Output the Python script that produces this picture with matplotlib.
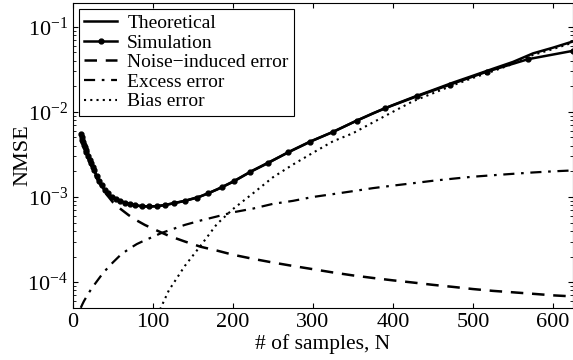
import numpy as np
import matplotlib
matplotlib.use("Agg")
import matplotlib.pyplot as plt

plt.rcParams['font.family'] = ['Liberation Serif', 'DejaVu Serif']
plt.rcParams['mathtext.fontset'] = 'stix'

# curves
n_grid = [10, 12, 14, 17, 20, 25, 30, 35, 40, 50, 60, 70, 80, 90, 100, 110, 120,
          140, 160, 180, 200, 225, 250, 275, 300, 325, 350, 375, 400, 425, 450,
          475, 500, 525, 550, 575, 600, 625]
theory = [5.5e-3, 4.7e-3, 4.1e-3, 3.4e-3, 2.9e-3, 2.25e-3, 1.72e-3, 1.42e-3, 1.18e-3,
          9.8e-4, 8.9e-4, 8.3e-4, 7.9e-4, 7.75e-4, 7.75e-4, 7.9e-4, 8.2e-4, 9.0e-4,
          1.02e-3, 1.22e-3, 1.5e-3, 2.05e-3, 2.7e-3, 3.55e-3, 4.6e-3, 5.8e-3, 7.5e-3,
          9.6e-3, 1.2e-2, 1.48e-2, 1.8e-2, 2.2e-2, 2.65e-2, 3.2e-2, 3.85e-2, 4.85e-2,
          5.66e-2, 6.7e-2]
noise = [5.4e-3, 4.5e-3, 3.9e-3, 3.2e-3, 2.7e-3, 2.1e-3, 1.65e-3, 1.36e-3, 1.14e-3,
         8.7e-4, 7.2e-4, 6.1e-4, 5.3e-4, 4.7e-4, 4.25e-4, 3.85e-4, 3.5e-4, 3.0e-4,
         2.6e-4, 2.35e-4, 2.1e-4, 1.88e-4, 1.7e-4, 1.55e-4, 1.42e-4, 1.3e-4, 1.2e-4,
         1.12e-4, 1.05e-4, 9.9e-5, 9.3e-5, 8.8e-5, 8.3e-5, 7.9e-5, 7.6e-5, 7.3e-5,
         7.0e-5, 6.8e-5]
excess = [5.0e-5, 5.5e-5, 6.0e-5, 6.7e-5, 7.5e-5, 8.8e-5, 1.02e-4, 1.18e-4, 1.35e-4,
          1.7e-4, 2.1e-4, 2.45e-4, 2.8e-4, 3.1e-4, 3.4e-4, 3.75e-4, 4.05e-4, 4.7e-4,
          5.3e-4, 5.9e-4, 6.6e-4, 7.3e-4, 8.3e-4, 9.0e-4, 1.0e-3, 1.08e-3, 1.17e-3,
          1.27e-3, 1.36e-3, 1.45e-3, 1.55e-3, 1.64e-3, 1.73e-3, 1.8e-3, 1.87e-3,
          1.94e-3, 2.0e-3, 2.05e-3]

n_bias = [100, 110, 120, 140, 160, 180, 200, 225, 250, 275, 300, 325, 350, 375, 400,
          425, 450, 475, 500, 525, 550, 575, 600, 625]
bias = [3.0e-5, 5.0e-5, 8.0e-5, 1.55e-4, 2.7e-4, 4.8e-4, 7.2e-4, 1.1e-3, 1.7e-3,
        2.4e-3, 3.3e-3, 4.5e-3, 5.6e-3, 7.5e-3, 1.0e-2, 1.33e-2, 1.65e-2, 2.05e-2,
        2.5e-2, 3.0e-2, 3.65e-2, 4.65e-2, 5.45e-2, 6.5e-2]

n_sim = [10, 11, 12, 13, 14, 15, 16, 17, 19, 21, 23, 25, 27, 30, 33, 36, 40, 44, 49,
         54, 59, 65, 71, 78, 86, 95, 105, 115, 127, 140, 155, 169, 186, 202, 221, 244,
         269, 296, 325, 355, 390, 430, 471, 517, 569, 625]
sim = [5.5e-3, 5.1e-3, 4.7e-3, 4.4e-3, 4.1e-3, 3.85e-3, 3.6e-3, 3.4e-3, 3.05e-3,
       2.75e-3, 2.5e-3, 2.25e-3, 2.05e-3, 1.75e-3, 1.55e-3, 1.4e-3, 1.2e-3, 1.1e-3,
       1.0e-3, 9.4e-4, 9.0e-4, 8.6e-4, 8.25e-4, 8.0e-4, 7.8e-4, 7.75e-4, 7.8e-4,
       8.05e-4, 8.5e-4, 9.0e-4, 9.8e-4, 1.1e-3, 1.3e-3, 1.55e-3, 1.95e-3, 2.5e-3,
       3.35e-3, 4.45e-3, 5.8e-3, 7.9e-3, 1.1e-2, 1.52e-2, 2.08e-2, 2.95e-2, 4.15e-2,
       5.2e-2]

fig = plt.figure(figsize=(5.73, 3.6), dpi=100)
ax = fig.add_axes([0.127, 0.145, 0.873, 0.847])

ax.semilogy(n_grid, theory, 'k-', lw=1.8, label='Theoretical')
ax.semilogy(n_sim, sim, 'k-', lw=1.8, marker='o', ms=3.5, label='Simulation')
ax.semilogy(n_grid, noise, 'k--', lw=1.8, dashes=(5, 3.5), label='Noise\u2212induced error')
ax.semilogy(n_grid, excess, 'k-.', lw=1.6, dashes=(5, 3, 1.2, 3), label='Excess error')
ax.semilogy(n_bias, bias, 'k:', lw=1.5, dashes=(1, 2), label='Bias error')

ax.set_xlim(0, 625)
ax.set_ylim(5e-5, 0.19)
ax.set_xticks([0, 100, 200, 300, 400, 500, 600])
ax.tick_params(which='both', direction='in', top=True, right=True, labelsize=16)
ax.set_xlabel('# of samples, N', fontsize=15.5, labelpad=2)
ax.set_ylabel('NMSE', fontsize=16)
ax.yaxis.set_label_coords(-0.08, 0.5)

leg = ax.legend(loc='upper left', fontsize=14, frameon=True, fancybox=False,
                framealpha=1, edgecolor='k', labelspacing=0.1, handlelength=1.7,
                handletextpad=0.5, borderpad=0.3, borderaxespad=0.3)
leg.get_frame().set_linewidth(0.8)

fig.savefig('out.png', dpi=100)
